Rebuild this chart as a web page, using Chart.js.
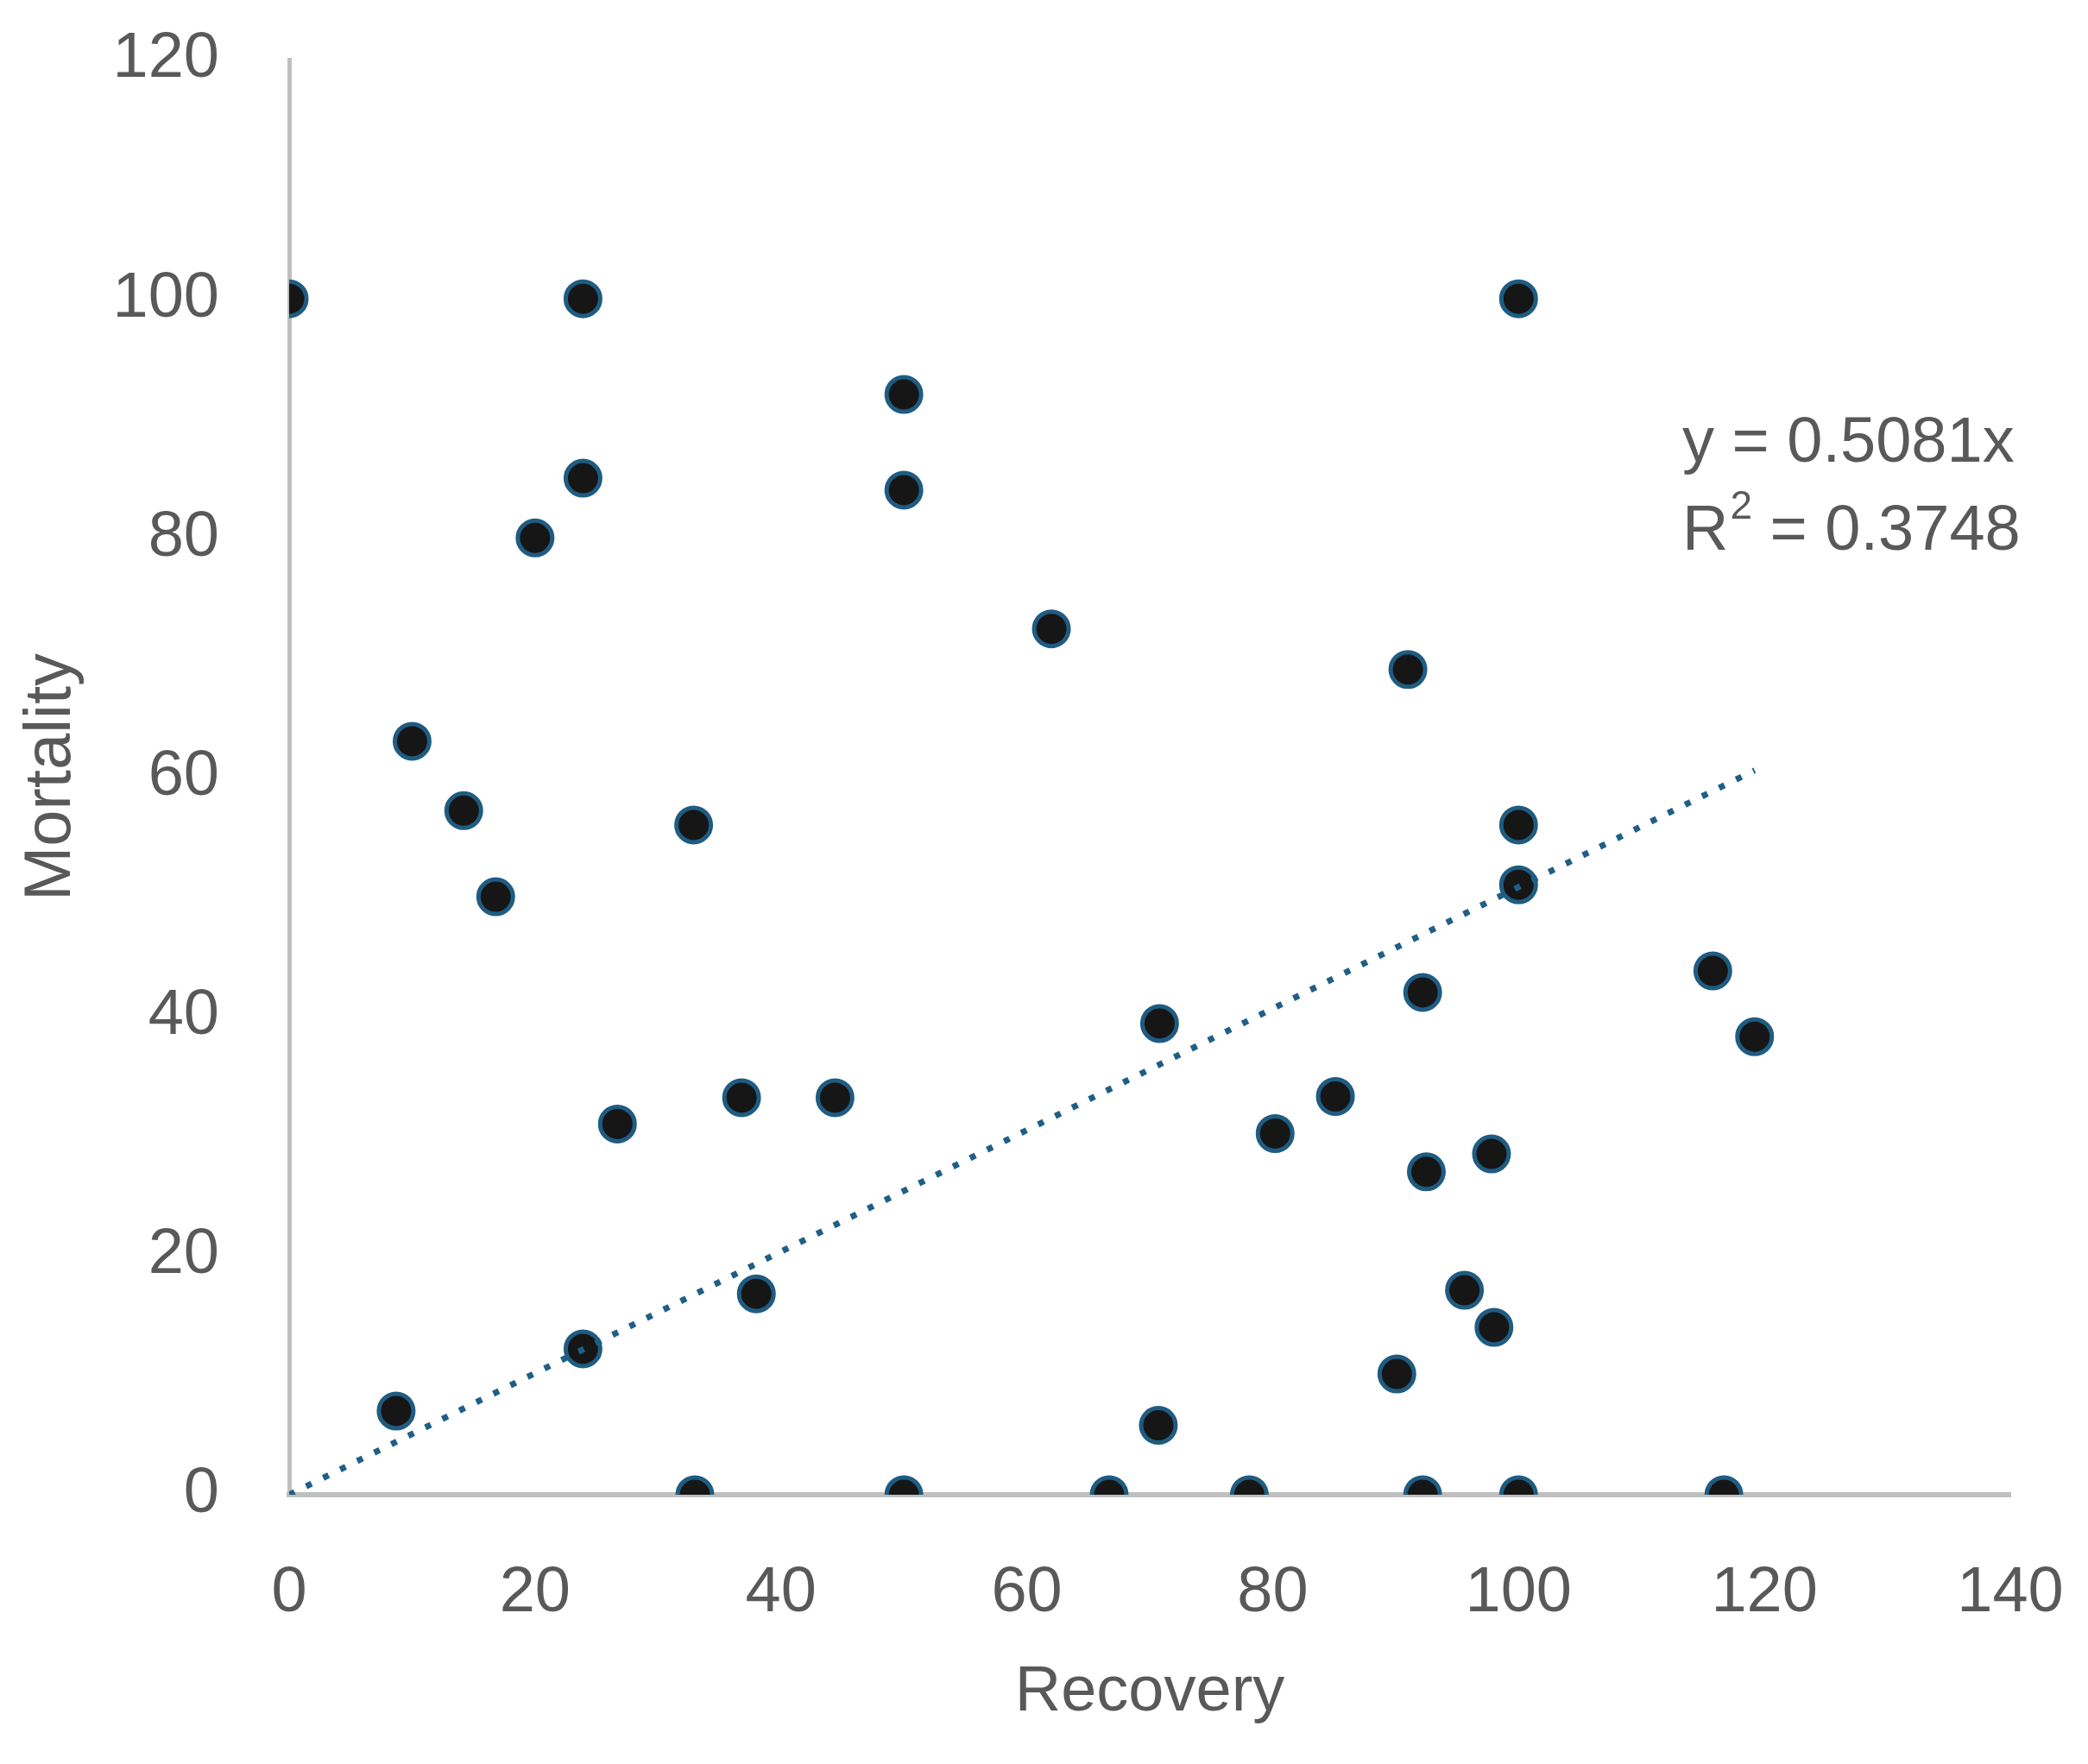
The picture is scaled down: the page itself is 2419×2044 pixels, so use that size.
<!DOCTYPE html>
<html>
<head>
<meta charset="utf-8">
<script src="https://cdn.jsdelivr.net/npm/chart.js@4.4.1/dist/chart.umd.min.js"></script>
<style>
  html, body { margin: 0; padding: 0; background: #fff; }
  #wrap { width: 2419px; height: 2044px; }
</style>
</head>
<body>
<div id="wrap"><canvas id="my-chart" width="2419" height="2044"></canvas></div>
<script>
// recovery (x) vs mortality (y)
const recovery = [0, 23.9, 100, 50, 50, 23.9, 20, 62, 91, 10,
  14.2, 32.9, 16.8, 100, 100, 115.8, 92.2, 70.8, 119.2, 26.7,
  36.8, 44.4, 85.1, 80.2, 92.5, 97.8, 38, 95.6, 98, 23.9,
  90.1, 8.7, 70.7, 33, 50, 66.7, 78.1, 92.2, 100, 116.7];
const mortality = [100, 100, 100, 92, 84, 85, 80, 72.4, 69, 63,
  57.2, 56, 50, 56, 51, 43.8, 42, 39.4, 38.3, 31,
  33.2, 33.2, 33.3, 30.2, 27, 28.5, 16.8, 17.1, 14, 12.2,
  10.1, 7, 5.8, 0, 0, 0, 0, 0, 0, 0];
const slope = 0.5081;
const rSquared = 0.3748;
const xTicks = [0, 20, 40, 60, 80, 100, 120, 140];
const yTicks = [0, 20, 40, 60, 80, 100, 120];

const points = recovery.map((x, i) => ({x: x, y: mortality[i]}));
const xMax = Math.max(...recovery);
const trend = [{x: 0, y: 0}, {x: xMax, y: slope * xMax}];

const gray = '#595959';
const font = 'Liberation Sans';

// equation label, drawn in the top right of the plot
const eqLabel = {
  id: 'eqLabel',
  afterDraw(chart) {
    const {ctx, chartArea} = chart;
    const x0 = chartArea.right - 380;
    ctx.save();
    ctx.fillStyle = gray;
    ctx.textBaseline = 'alphabetic';
    ctx.textAlign = 'left';
    ctx.font = `74px "${font}"`;
    ctx.fillText(`y = ${slope}x`, x0, chartArea.top + 466);
    const y2 = chartArea.top + 568;
    ctx.fillText('R', x0, y2);
    let w = ctx.measureText('R').width;
    ctx.font = `46px "${font}"`;
    ctx.fillText('2', x0 + w + 2, y2 - 36);
    w += ctx.measureText('2').width + 2;
    ctx.font = `74px "${font}"`;
    ctx.fillText(` = ${rSquared}`, x0 + w, y2);
    ctx.restore();
  }
};

const ctx = document.getElementById('my-chart').getContext('2d');
new Chart(ctx, {
  type: 'scatter',
  data: {
    datasets: [{
      type: 'line',
      data: trend,
      borderColor: '#1f5f87',
      borderWidth: 7,
      borderDash: [7, 15],
      borderCapStyle: 'butt',
      pointRadius: 0,
      fill: false,
      order: 0
    }, {
      data: points,
      backgroundColor: '#161616',
      borderColor: '#1f5c82',
      borderWidth: 5,
      pointRadius: 20,
      pointHoverRadius: 20,
      order: 1
    }]
  },
  plugins: [eqLabel],
  options: {
    responsive: false,
    animation: false,
    devicePixelRatio: 1,
    layout: { padding: { top: 69, right: 90, left: 0, bottom: 0 } },
    plugins: { legend: { display: false }, tooltip: { enabled: false } },
    scales: {
      x: {
        type: 'linear',
        min: 0, max: 140,
        afterBuildTicks: s => { s.ticks = xTicks.map(v => ({value: v})); },
        afterFit: s => { s.height = 312; s.paddingLeft = 0; s.paddingRight = 0; },
        grid: { display: false, drawTicks: false },
        border: { display: true, color: '#bfbfbf', width: 6 },
        ticks: { color: gray, padding: 70, font: { family: font, size: 74 } },
        title: { display: true, text: 'Recovery', color: gray,
                 padding: { top: 0, bottom: 38 }, font: { family: font, size: 74 } }
      },
      y: {
        type: 'linear',
        min: 0, max: 120,
        afterBuildTicks: s => { s.ticks = yTicks.map(v => ({value: v})); },
        afterFit: s => { s.width = 335; s.paddingTop = 0; s.paddingBottom = 0; },
        grid: { display: false, drawTicks: false },
        border: { display: true, color: '#bfbfbf', width: 5 },
        ticks: { color: gray, padding: 81, font: { family: font, size: 74 } },
        title: { display: true, text: 'Mortality', color: gray,
                 padding: { top: 14, bottom: 0 }, font: { family: font, size: 76 } }
      }
    }
  }
});
</script>
</body>
</html>
